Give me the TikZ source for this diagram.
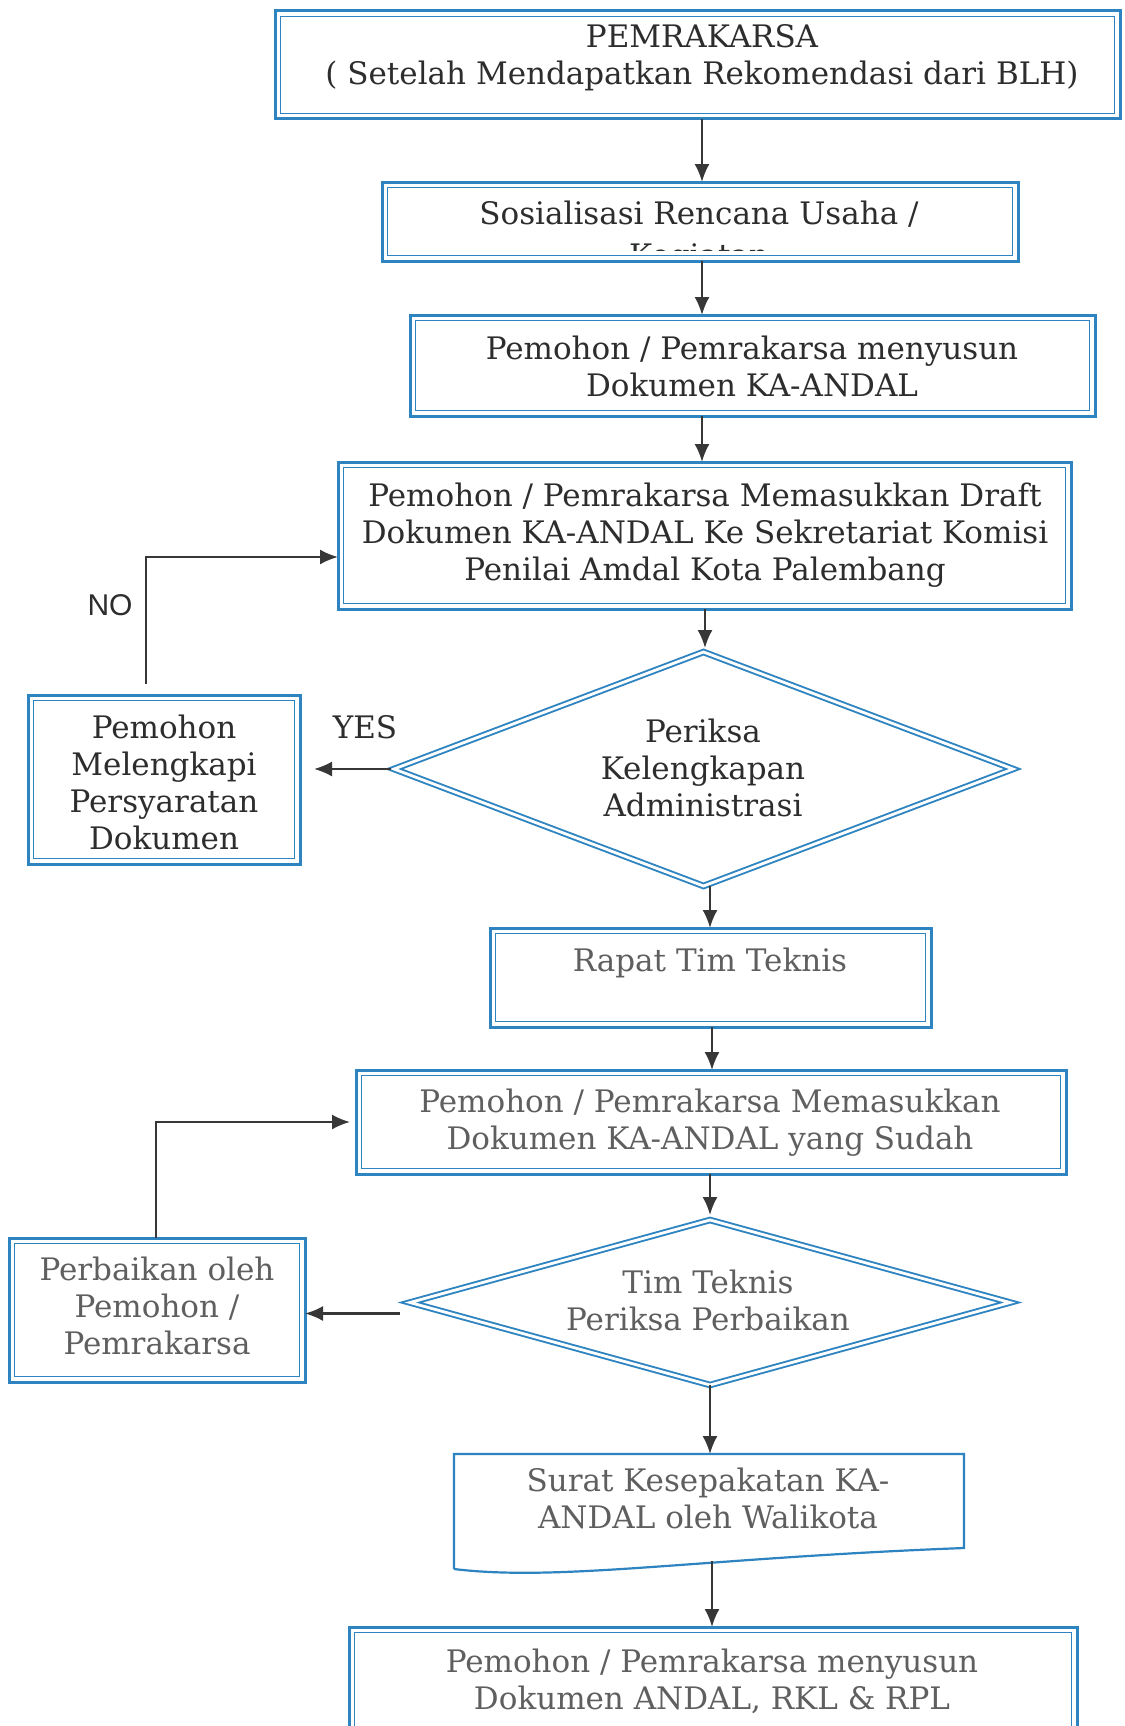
\documentclass[tikz,border=0pt]{standalone}
\usepackage{fontspec}
\setmainfont{DejaVu Serif}
\newfontfamily\labsans{Liberation Sans}
\usetikzlibrary{arrows.meta,shapes.geometric,calc}
\definecolor{bl}{RGB}{46,132,192}
\definecolor{tx}{RGB}{45,45,45}
\definecolor{tf}{RGB}{95,95,95}
\definecolor{ar}{RGB}{55,55,55}
\newcommand\innerframe[1]{\draw[bl,line width=1.5pt] ([shift={(5.5pt,-5.5pt)}]#1.north west) rectangle ([shift={(-5.5pt,5.5pt)}]#1.south east);}
\begin{document}
\begin{tikzpicture}[x=1pt,y=1pt,
  dbox/.style={rectangle,draw=bl,line width=3pt,inner sep=0pt,outer sep=0pt},
  ddia/.style={diamond,draw=bl,line width=1.9pt,double=white,double distance=2.8pt,inner sep=0pt,outer sep=0pt},
  txt/.style={font=\fontsize{31}{37}\selectfont,text=tx,align=center,inner sep=0pt},
  txf/.style={txt,text=tf},
  arr/.style={draw=ar,line width=2.1pt,-{Latex[length=18pt,width=15pt]}}]
\useasboundingbox[fill=white] (0,0) rectangle (1124,-1726);
% boxes
\node[dbox,minimum width=845pt,minimum height=108pt] (b1) at (697.5,-65) {};
\innerframe{b1}
\node[dbox,minimum width=636pt,minimum height=79pt] (b2) at (700,-221.5) {};
\innerframe{b2}
\node[dbox,minimum width=685pt,minimum height=101pt] (b3) at (752.5,-365.5) {};
\innerframe{b3}
\node[dbox,minimum width=733pt,minimum height=147pt] (b4) at (704.5,-535.5) {};
\innerframe{b4}
\node[dbox,minimum width=272pt,minimum height=169pt] (b5) at (164,-779.5) {};
\innerframe{b5}
\node[dbox,minimum width=441pt,minimum height=99pt] (b6) at (710.5,-977.5) {};
\innerframe{b6}
\node[dbox,minimum width=710pt,minimum height=104pt] (b7) at (711,-1122) {};
\innerframe{b7}
\node[dbox,minimum width=296pt,minimum height=144pt] (b8) at (157,-1310) {};
\innerframe{b8}
\node[rectangle,inner sep=0pt,outer sep=0pt,minimum width=510pt,minimum height=115pt] (b9) at (709,-1511.5) {};
\draw[bl,line width=2.2pt] (b9.south west) -- (b9.north west) -- (b9.north east) -- ([yshift=21pt]b9.south east)
  .. controls (700,-1558) and (560,-1582) .. (b9.south west);
\node[dbox,minimum width=728pt,minimum height=133pt] (b10) at (713,-1693.5) {};
\innerframe{b10}
% diamonds
\node[ddia,minimum width=619pt,minimum height=234pt] (d1) at (703.5,-769) {};
\node[ddia,minimum width=600pt,minimum height=165pt] (d2) at (710,-1302.5) {};
% texts
\node[txt] (t1) at (702,-58) {PEMRAKARSA\\( Setelah Mendapatkan Rekomendasi dari BLH)};
\node[txt] (t2) at (699,-214) {Sosialisasi Rencana Usaha /};
\begin{scope}
\clip (b2.north west) rectangle ([yshift=11pt]b2.south east);
\node[txt] (t2b) at (699,-259) {Kegiatan};
\end{scope}
\node[txt] (t3) at (752,-366) {Pemohon / Pemrakarsa menyusun\\Dokumen KA-ANDAL};
\node[txt] (t4) at (705,-535) {Pemohon / Pemrakarsa Memasukkan Draft\\Dokumen KA-ANDAL Ke Sekretariat Komisi\\Penilai Amdal Kota Palembang};
\node[txt] (t5) at (164,-782) {Pemohon\\Melengkapi\\Persyaratan\\Dokumen};
\node[txt] (td1) at (703,-768) {Periksa\\Kelengkapan\\Administrasi};
\node[txf] (t6) at (710,-963) {Rapat Tim Teknis};
\node[txf] (t7) at (710,-1123) {Pemohon / Pemrakarsa Memasukkan\\Dokumen KA-ANDAL yang Sudah};
\node[txf] (td2) at (708,-1300) {Tim Teknis\\Periksa Perbaikan};
\node[txf] (t8) at (157,-1306) {Perbaikan oleh\\Pemohon /\\Pemrakarsa};
\node[txf] (t9) at (708,-1498) {Surat Kesepakatan KA-\\ANDAL oleh Walikota};
\node[txf] (t10) at (712,-1681) {Pemohon / Pemrakarsa menyusun\\Dokumen ANDAL, RKL \& RPL};
\node[font=\labsans\fontsize{30}{30}\selectfont,text=tx,inner sep=0pt] (lno) at (110,-605) {NO};
\node[txt] (lyes) at (365,-727) {YES};
% arrows
\draw[arr] ([xshift=4.5pt]b1.south) -- ([xshift=4.5pt]b1.south |- b2.north);
\draw[arr] ([xshift=2pt]b2.south) -- ([xshift=2pt]b2.south |- b3.north);
\draw[arr] ([xshift=-50.5pt]b3.south) -- ([xshift=-50.5pt]b3.south |- b4.north);
\draw[arr] ([xshift=0.5pt]b4.south) -- ([xshift=0.5pt,yshift=4pt]b4.south |- d1.north);
\draw[arr] ([xshift=6.5pt]d1.south) -- ([xshift=6.5pt]d1.south |- b6.north);
\draw[arr] ([xshift=1.5pt]b6.south) -- ([xshift=1.5pt]b6.south |- b7.north);
\draw[arr] ([xshift=-1pt]b7.south) -- ([xshift=-1pt,yshift=5pt]b7.south |- d2.north);
\draw[arr] (d2.south) -- (d2.south |- b9.north);
\draw[arr] ([xshift=3pt,yshift=8pt]b9.south) -- ([xshift=3pt]b9.south |- b10.north);
% side branches
\draw[arr] ([xshift=-18pt,yshift=11pt]b5.north) |- ([yshift=-21.5pt]b4.west);
\draw[arr] ([xshift=-3pt]d1.west) -- ($(d1.west -| b5.east)+(14pt,0)$);
\draw[arr] ($(d2.west)+(-10pt,-11pt)$) -- ($(d2.west -| b8.east)+(0,-11pt)$);
\draw[arr] ([xshift=-1pt]b8.north) |- ($(b7.west)+(-6pt,0)$);
\end{tikzpicture}
\end{document}
